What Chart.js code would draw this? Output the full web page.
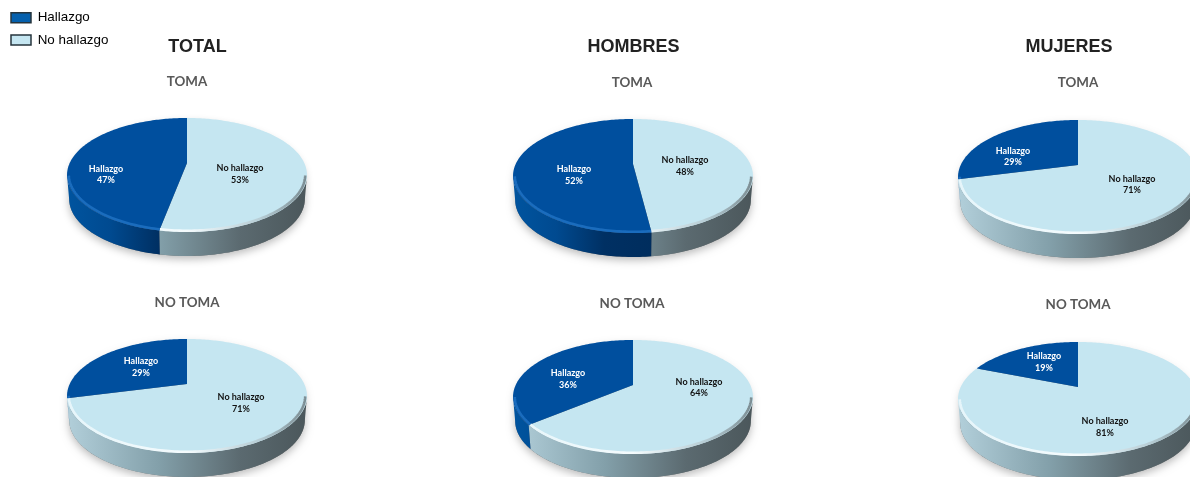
<!DOCTYPE html>
<html>
<head>
<meta charset="utf-8">
<style>html,body{margin:0;padding:0;background:#fff;overflow:hidden}canvas{display:block}</style>
<script src="https://cdn.jsdelivr.net/npm/chart.js@4/dist/chart.umd.min.js"></script>
</head>
<body>
<canvas id="c" width="1190" height="477"></canvas>
<script>
const CATEGORIES = ['No hallazgo', 'Hallazgo'];
const TOTAL_TOMA = [53, 47];
const TOTAL_NO_TOMA = [71, 29];
const HOMBRES_TOMA = [48, 52];
const HOMBRES_NO_TOMA = [64, 36];
const MUJERES_TOMA = [71, 29];
const MUJERES_NO_TOMA = [81, 19];
const GROUP_TITLES = ['TOTAL', 'HOMBRES', 'MUJERES'];
const SUB_TITLES = ['TOMA', 'NO TOMA'];

/* layout only: pie placement and slice label offsets */
const GROUP_LAYOUT = [[197.5, 47], [633.5, 47], [1069, 47]];
const PANELS = [
  {cx:187, top:118, tx:187, ty:82,  lab:[[53,11],[-81,11.5]]},
  {cx:187, top:339, tx:187, ty:303, lab:[[54,19],[-46,-17]]},
  {cx:633, top:119, tx:632, ty:83,  lab:[[52,2],[-59,11]]},
  {cx:633, top:340, tx:632, ty:304, lab:[[66,2.5],[-65,-6]]},
  {cx:1078,top:120, tx:1078,ty:83,  lab:[[54,19.5],[-65,-8.5]]},
  {cx:1078,top:342, tx:1078,ty:305, lab:[[27,40],[-34,-25]]}
];
const SERIES = [TOTAL_TOMA, TOTAL_NO_TOMA, HOMBRES_TOMA, HOMBRES_NO_TOMA, MUJERES_TOMA, MUJERES_NO_TOMA];
const DARK = '#004f9e', LIGHT = '#c5e6f1';

/* projection of the tilted disc */
const S = 117.3, T = 54.5, K = 0.21, DEPTH = 24, VERT = 45, INSET = 0.982;
function proj(angle, cx, vy, r) {
  const th = angle + Math.PI / 2, u = Math.sin(th) * r, v = -Math.cos(th) * r;
  const w = 1 - K * v;
  return [cx + S * u / w, vy + T * v / w, v / r];
}
function sample(a0, a1) {
  const n = Math.max(2, Math.ceil((a1 - a0) / 0.02)), out = [];
  for (let i = 0; i <= n; i++) out.push(a0 + (a1 - a0) * i / n);
  return out;
}
function hGrad(ctx, cx, stops) {
  const g = ctx.createLinearGradient(cx - 120, 0, cx + 120, 0);
  stops.forEach(s => g.addColorStop(s[0], s[1]));
  return g;
}
const SIDE_LIGHT = [[0,'#b2cfda'],[.38,'#83a0aa'],[.72,'#5b6a70'],[1,'#4b575b']];
const SIDE_DARK = [[0,'#00549f'],[.18,'#004a90'],[.38,'#003063'],[.6,'#002d5d'],[1,'#002a55']];
const RIM_LIGHT = [[0,'#e6f5fa'],[.5,'#f4fbfd'],[.8,'#b7cdd5'],[1,'#7a8b91']];
const RIM_DARK = [[0,'#1a6cbd'],[1,'#1a6cbd']];

const pie3d = {
  id: 'pie3d',
  beforeDatasetDraw() { return false; },
  beforeDatasetsDraw(chart) {
    const ctx = chart.ctx;
    ctx.save();
    ctx.textAlign = 'center';
    ctx.textBaseline = 'middle';
    ctx.fillStyle = '#222';
    ctx.font = 'bold 18px "Liberation Sans"';
    GROUP_TITLES.forEach((t, i) => ctx.fillText(t, GROUP_LAYOUT[i][0], GROUP_LAYOUT[i][1]));

    PANELS.forEach((p, di) => {
      const arcs = chart.getDatasetMeta(di).data;
      const vy = p.top + VERT;
      ctx.fillStyle = '#595959';
      ctx.font = 'bold 13.4px Lato';
      ctx.fillText(SUB_TITLES[di % 2], p.tx, p.ty);

      /* soft ground shadow under the front wall */
      ctx.save();
      ctx.shadowColor = 'rgba(0,0,0,.28)';
      ctx.shadowBlur = 9;
      ctx.shadowOffsetY = 3;
      ctx.fillStyle = '#777';
      ctx.beginPath();
      sample(-Math.PI / 2, 1.5 * Math.PI).forEach(a => {
        const q = proj(a, p.cx, vy, 1);
        if (q[2] >= K) ctx.lineTo(p.cx + (q[0] - p.cx) * INSET, q[1] + DEPTH);
        else ctx.lineTo(p.cx + (q[0] - p.cx) * 0.98, q[1] + 2);
      });
      ctx.closePath();
      ctx.fill();
      ctx.restore();

      /* side wall */
      arcs.forEach((arc, i) => {
        const pts = sample(arc.startAngle, arc.endAngle).map(a => proj(a, p.cx, vy, 1)).filter(q => q[2] >= K);
        if (pts.length < 2) return;
        ctx.fillStyle = hGrad(ctx, p.cx, i === 1 ? SIDE_DARK : SIDE_LIGHT);
        ctx.beginPath();
        pts.forEach(q => ctx.lineTo(q[0], q[1]));
        pts.slice().reverse().forEach(q => ctx.lineTo(p.cx + (q[0] - p.cx) * INSET, q[1] + DEPTH));
        ctx.closePath();
        ctx.fill();
      });

      /* top face */
      arcs.forEach((arc, i) => {
        ctx.fillStyle = i === 1 ? DARK : LIGHT;
        ctx.beginPath();
        ctx.moveTo(p.cx, vy);
        sample(arc.startAngle, arc.endAngle).forEach(a => {
          const q = proj(a, p.cx, vy, 1);
          ctx.lineTo(q[0], q[1]);
        });
        ctx.closePath();
        ctx.fill();
      });

      /* soft bevel along the front rim */
      arcs.forEach((arc, i) => {
        const pts = sample(arc.startAngle, arc.endAngle).map(a => proj(a, p.cx, vy, 0.986)).filter(q => q[2] >= K);
        if (pts.length < 2) return;
        ctx.save();
        ctx.filter = 'blur(0.7px)';
        ctx.strokeStyle = hGrad(ctx, p.cx, i === 1 ? RIM_DARK : RIM_LIGHT);
        ctx.lineWidth = 2.6;
        ctx.beginPath();
        pts.forEach(q => ctx.lineTo(q[0], q[1]));
        ctx.stroke();
        ctx.restore();
      });

      /* slice labels */
      ctx.font = 'bold 9px Lato';
      arcs.forEach((arc, i) => {
        const x = p.cx + p.lab[i][0], y = vy + p.lab[i][1];
        ctx.fillStyle = i === 1 ? '#ffffff' : '#111111';
        ctx.fillText(CATEGORIES[i], x, y - 5.75);
        ctx.fillText(SERIES[di][i] + '%', x, y + 5.75);
      });
    });
    ctx.restore();
  }
};

new Chart(document.getElementById('c'), {
  type: 'pie',
  data: {
    labels: CATEGORIES,
    datasets: SERIES.map(d => ({ data: d, backgroundColor: [LIGHT, DARK], borderWidth: 0 }))
  },
  options: {
    responsive: false,
    animation: false,
    events: [],
    layout: { padding: { top: 2, left: 2 } },
    plugins: {
      tooltip: { enabled: false },
      legend: {
        position: 'left',
        align: 'start',
        reverse: true,
        labels: {
          boxWidth: 20,
          boxHeight: 10,
          padding: 9,
          color: '#333',
          font: { family: '"Liberation Sans"', size: 13.4 },
          generateLabels: () => [
            { text: CATEGORIES[0], fillStyle: LIGHT, strokeStyle: '#26343c', lineWidth: 1.5, index: 0 },
            { text: CATEGORIES[1], fillStyle: '#0560ad', strokeStyle: '#26343c', lineWidth: 1.5, index: 1 }
          ]
        }
      }
    }
  },
  plugins: [pie3d]
});
</script>
</body>
</html>
